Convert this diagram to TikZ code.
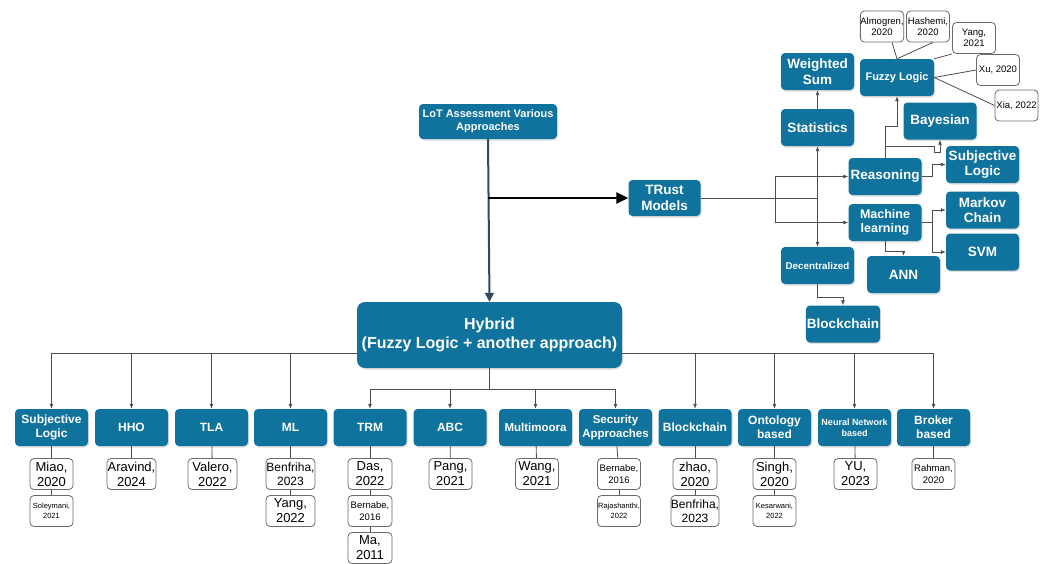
\documentclass[tikz,border=0pt]{standalone}
\usepackage{fontspec}
\setmainfont{Liberation Sans}
\usetikzlibrary{arrows.meta,shadows}
\definecolor{boxblue}{HTML}{10739E}
\definecolor{spine}{HTML}{2F4A5E}
\definecolor{wire}{HTML}{4D4D4D}
\definecolor{citeline}{HTML}{6B6B6B}
\tikzset{
  box/.style={rectangle, rounded corners=4pt, fill=boxblue, text=white, align=center,
    minimum width=73pt, minimum height=37pt, inner sep=1pt,
    drop shadow={opacity=0.25, shadow xshift=1pt, shadow yshift=-1.5pt}},
  cite/.style={rectangle, rounded corners=4pt, draw=citeline, fill=white, align=center,
    minimum width=43pt, minimum height=31pt, inner sep=0pt, line width=0.8pt},
  wire/.style={draw=wire, line width=0.8pt},
  arr/.style={wire, -{Latex[length=5pt,width=4pt]}},
  spineline/.style={draw=spine, line width=2pt, -{Triangle[length=9pt,width=9pt]}},
  trustarrow/.style={draw=black, line width=2.5pt, -{Triangle[length=12pt,width=11pt]}},
  bbig/.style={font=\bfseries\fontsize{13.5}{15.5}\selectfont},
  bmid/.style={font=\bfseries\fontsize{12}{14}\selectfont},
  bsmall/.style={font=\bfseries\fontsize{11}{13}\selectfont},
  btiny/.style={font=\bfseries\fontsize{9}{11}\selectfont},
  cbig/.style={font=\fontsize{13}{15}\selectfont},
  cmid/.style={font=\fontsize{9.5}{11.5}\selectfont},
  csmall/.style={font=\fontsize{7.5}{10}\selectfont}
}

\begin{document}
\begin{tikzpicture}[x=1pt, y=-1pt]
  \useasboundingbox (0,0) rectangle (1047,563);

  % top of the tree
  \node[box, bsmall, minimum width=138pt, minimum height=35pt] (lot) at (488,121.5) {LoT Assessment Various\\Approaches};
  \node[box, bbig, minimum width=72pt, minimum height=36pt] (trust) at (664.5,198) {TRust\\Models};
  \node[box, font=\bfseries\fontsize{16}{19}\selectfont, minimum width=265pt, minimum height=66pt, rounded corners=8pt] (hybrid) at (489.5,335) {Hybrid\\(Fuzzy Logic + another approach)};

  % trust models branch
  \node[box, bbig] (wsum) at (817.5,71.5) {Weighted\\Sum};
  \node[box, bbig] (stats) at (817.5,127.5) {Statistics};
  \node[box, font=\bfseries\fontsize{11}{13}\selectfont, minimum width=74pt] (fuzzy) at (897,77.5) {Fuzzy Logic};
  \node[box, bbig] (bayes) at (940,121) {Bayesian};
  \node[box, bbig] (subjr) at (982.5,164.5) {Subjective\\Logic};
  \node[box, bbig] (reason) at (885,176.5) {Reasoning};
  \node[box, font=\bfseries\fontsize{12.5}{14.5}\selectfont] (mlearn) at (885,222.5) {Machine\\learning};
  \node[box, bbig] (markov) at (982.5,210) {Markov\\Chain};
  \node[box, bbig] (svm) at (982.5,252) {SVM};
  \node[box, bbig] (ann) at (903.5,274.5) {ANN};
  \node[box, font=\bfseries\fontsize{9.8}{11}\selectfont] (decent) at (817.5,265.5) {Decentralized};
  \node[box, bbig] (chainr) at (843,324) {Blockchain};

  \node[cite, cmid] (almo) at (882,26.5) {Almogren,\\2020};
  \node[cite, cmid] (hash) at (928,26.5) {Hashemi,\\2020};
  \node[cite, cmid] (yang21) at (974,38) {Yang,\\2021};
  \node[cite, cmid] (xu) at (998,70) {Xu, 2020};
  \node[cite, cmid] (xia) at (1016.5,105.5) {Xia, 2022};

  % hybrid approaches
  \node[box, bmid] (subjl) at (51.5,427.5) {Subjective\\Logic};
  \node[box, bmid] (hho) at (131.5,427.5) {HHO};
  \node[box, bmid] (tla) at (211.5,427.5) {TLA};
  \node[box, bmid] (mlb) at (290.5,427.5) {ML};
  \node[box, bmid] (trm) at (370,427.5) {TRM};
  \node[box, bmid] (abc) at (450,427.5) {ABC};
  \node[box, font=\bfseries\fontsize{11.5}{13.5}\selectfont] (multi) at (535.5,427.5) {Multimoora};
  \node[box, font=\bfseries\fontsize{11.5}{13.5}\selectfont] (secu) at (615.5,427.5) {Security\\Approaches};
  \node[box, bmid] (chainb) at (695,427.5) {Blockchain};
  \node[box, bmid] (onto) at (774.5,427.5) {Ontology\\based};
  \node[box, btiny] (neural) at (854.5,427.5) {Neural Network\\based};
  \node[box, bmid] (broker) at (933.5,427.5) {Broker\\based};

  % references
  \node[cite, cbig] (miao) at (51.5,474) {Miao,\\2020};
  \node[cite, csmall] (soley) at (51.5,511) {Soleymani,\\2021};
  \node[cite, cbig, minimum width=49pt] (aravind) at (131.5,474) {Aravind,\\2024};
  \node[cite, cbig, minimum width=49pt] (valero) at (212.5,474) {Valero,\\2022};
  \node[cite, font=\fontsize{12}{14.5}\selectfont, minimum width=49pt] (benf1) at (290.5,474) {Benfriha,\\2023};
  \node[cite, cbig, minimum width=49pt] (yang22) at (290.5,511) {Yang,\\2022};
  \node[cite, cbig, minimum width=44pt] (das) at (370,474) {Das,\\2022};
  \node[cite, cmid, minimum width=44pt] (bern1) at (370,511) {Bernabe,\\2016};
  \node[cite, cbig, minimum width=44pt] (ma) at (370,548) {Ma,\\2011};
  \node[cite, cbig] (pang) at (450.5,474) {Pang,\\2021};
  \node[cite, cbig] (wang) at (537,474) {Wang,\\2021};
  \node[cite, cmid] (bern2) at (619,474) {Bernabe,\\2016};
  \node[cite, csmall] (rajas) at (619,511) {Rajashanthi,\\2022};
  \node[cite, cbig, minimum width=44pt] (zhao) at (695,474) {zhao,\\2020};
  \node[cite, font=\fontsize{12}{14.5}\selectfont, minimum width=48pt] (benf2) at (695,511) {Benfriha,\\2023};
  \node[cite, cbig] (singh) at (774.5,474) {Singh,\\2020};
  \node[cite, csmall] (kesar) at (774.5,511) {Kesarwani,\\2022};
  \node[cite, cbig] (yu) at (855.5,474) {YU,\\2023};
  \node[cite, cmid] (rahman) at (933.5,474) {Rahman,\\2020};

  % connectors
  \draw[spineline] (lot.south) -- (hybrid.north);
  \draw[trustarrow] (lot.south |- trust.west) -- (trust.west);

  \coordinate (tjoin) at (817.5,198);
  \coordinate (tfork) at (775,198);
  \draw[wire] (trust.east) -- (tjoin);
  \draw[arr] (tjoin) -- (stats.south);
  \draw[arr] (tjoin) -- (decent.north);
  \draw[arr] (tfork) |- (reason.west);
  \draw[arr] (tfork) |- (mlearn.west);
  \draw[arr] (stats) -- (wsum);

  \coordinate (rsplit) at (885,146);
  \draw[arr] (reason.north) -- ++(0,-31) -| (fuzzy.south);
  \draw[arr] (rsplit) -- ++(49,0) -- ++(0,6) -| (bayes.south);
  \draw[arr] (reason.east) -- ++(11,0) |- (subjr.west);
  \draw[arr] (mlearn.east) -- ++(11,0) |- (markov.west);
  \draw[arr] (mlearn.east) -- ++(11,0) |- (svm.west);
  \draw[arr] (mlearn.south) -- ++(0,10) -| (ann.north);
  \draw[arr] (decent.south) -- ++(0,13) -| (chainr.north);

  \draw[wire] (fuzzy.north) -- ([xshift=10pt]almo.south);
  \draw[wire] (fuzzy.north) -- ([xshift=5pt]hash.south);
  \draw[wire] (fuzzy.north east) -- (yang21.south west);
  \draw[wire] (fuzzy.east) -- (xu.west);
  \draw[wire] (fuzzy.east) -- (xia.west);

  \foreach \n in {subjl,hho,tla,mlb}
    \draw[arr] ([yshift=-18pt]hybrid.west) -| (\n);
  \foreach \n in {chainb,onto,neural,broker}
    \draw[arr] ([yshift=-18pt]hybrid.east) -| (\n);
  \coordinate (hsplit) at (489.5,389);
  \draw[wire] (hybrid.south) -- (hsplit);
  \foreach \n in {trm,abc,multi,secu}
    \draw[arr] (hsplit) -| (\n);

  \foreach \a/\b in {subjl/miao, miao/soley, hho/aravind, tla/valero, mlb/benf1, benf1/yang22,
      trm/das, das/bern1, bern1/ma, abc/pang, multi/wang, secu/bern2, bern2/rajas,
      chainb/zhao, zhao/benf2, onto/singh, singh/kesar, neural/yu, broker/rahman}
    \draw[wire] (\a) -- (\b);
\end{tikzpicture}
\end{document}
